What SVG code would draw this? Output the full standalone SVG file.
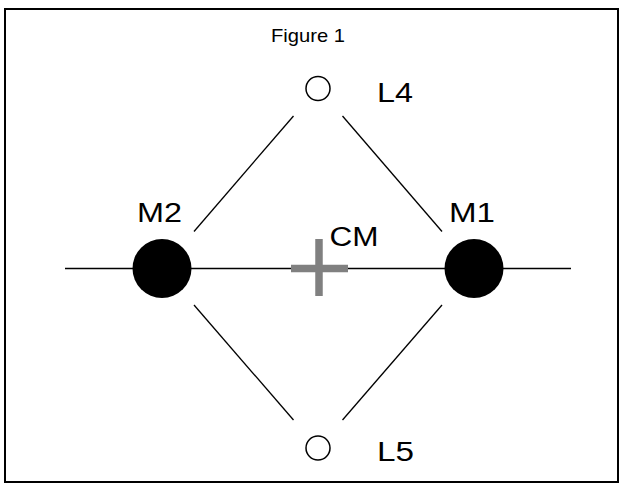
<svg xmlns="http://www.w3.org/2000/svg" width="624" height="487" viewBox="0 0 624 487">
  <style>
    .frame { fill: #ffffff; stroke: #000000; stroke-width: 2; }
    .lbl { font-family: "Liberation Sans", Arial, sans-serif; fill: #000000; }
    .big { font-size: 27px; }
    .title { font-size: 19px; }
    .link { stroke: #000000; stroke-width: 1.3; fill: none; }
    .axis { stroke: #000000; stroke-width: 1.6; fill: none; }
    .mass { fill: #000000; }
    .lpt { fill: #ffffff; stroke: #000000; stroke-width: 1.5; }
    .cm { stroke: #808080; stroke-width: 7.5; fill: none; }
  </style>

  <rect class="frame" x="5" y="9" width="613" height="473"/>
  <text class="lbl title" x="271" y="42" textLength="74" lengthAdjust="spacingAndGlyphs">Figure 1</text>

  <!-- connectors -->
  <g id="connectors">
    <line class="axis" x1="65" y1="268.5" x2="571" y2="268.5"/>
    <line class="link" x1="293.5" y1="116" x2="194" y2="231.5"/>
    <line class="link" x1="342.5" y1="116" x2="442" y2="231.5"/>
    <line class="link" x1="194" y1="305" x2="293.5" y2="420"/>
    <line class="link" x1="442" y1="305" x2="342.5" y2="420"/>
  </g>

  <g id="M2">
    <circle class="mass" cx="162" cy="268.5" r="29.5"/>
    <text class="lbl big" x="137" y="222" textLength="45" lengthAdjust="spacingAndGlyphs">M2</text>
  </g>

  <g id="M1">
    <circle class="mass" cx="474" cy="268.5" r="29.5"/>
    <text class="lbl big" x="449" y="222" textLength="46" lengthAdjust="spacingAndGlyphs">M1</text>
  </g>

  <g id="CM">
    <line class="cm" x1="291" y1="268.5" x2="348" y2="268.5"/>
    <line class="cm" x1="319" y1="239" x2="319" y2="296"/>
    <text class="lbl big" x="329.5" y="246" textLength="49" lengthAdjust="spacingAndGlyphs">CM</text>
  </g>

  <g id="L4">
    <circle class="lpt" cx="318" cy="88.5" r="12"/>
    <text class="lbl big" x="377" y="102" textLength="36" lengthAdjust="spacingAndGlyphs">L4</text>
  </g>

  <g id="L5">
    <circle class="lpt" cx="318" cy="448" r="12"/>
    <text class="lbl big" x="377" y="461" textLength="37" lengthAdjust="spacingAndGlyphs">L5</text>
  </g>
</svg>
